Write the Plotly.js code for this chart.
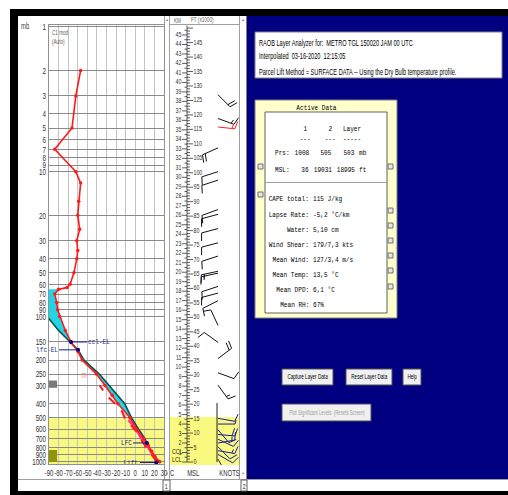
<!DOCTYPE html>
<html><head><meta charset="utf-8">
<script src="https://cdn.plot.ly/plotly-3.0.1.min.js"></script>
<style>html,body{margin:0;padding:0;background:#fff;overflow:hidden}#chart{width:508px;height:495px}</style>
</head><body><div id="chart"></div>
<script>
// ---------------- DATA ----------------
const pressureTicks = [1,2,3,4,5,6,7,8,9,10,20,30,40,50,60,70,80,90,100,150,200,250,300,400,500,600,700,800,900,1000];
const tempTicks = [-90,-80,-70,-60,-50,-40,-30,-20,-10,0,10,20,30];

// environmental temperature (mb, degC)
const envP = [1008,1000,925,850,775,700,600,500,400,350,300,250,200,175,150,125,100,90,80,70,65,63,60,50,40,35,30,25,20,16,12,10,7,5,3,2];
const envT = [25.5,24.5,20.5,17,13.5,9,1.5,-5.5,-18,-24,-31.5,-40.5,-55.5,-59.7,-67,-73,-79,-81,-82,-84,-80,-71,-68,-64,-61,-60,-61,-58,-60,-59,-57,-62,-84,-66,-62,-57];

// dew point (mb, degC)
const dewP = [1008,1000,925,850,775,700,630,600,500,450,400,370,350,300];
const dewT = [22.5,22,18.5,13,10,5.5,2,-1,-11,-14,-21,-26,-30,-37];

// second (pink) moisture trace, lower layer
const wetP = [1008,1000,900,800,700,600,520];
const wetT = [23.5,23,18,13.5,6.5,1,-7];

// lifted parcel (mb, degC)
const parcelP = [1008,960,925,850,775,747,700,600,500,400,300,250,200,170,150,125,100,80,65];
const parcelT = [25.5,21.5,19.5,16,13.2,12.2,10.2,3.5,-4,-11,-27.5,-37.5,-53.5,-59.7,-68,-80,-92,-100,-106];

// parcel marks
const markLabels = ['ccl-EL','lfc-EL','LFC','Lift'];
const markP = [150,170,747,1020];
const markT = [-67,-59.7,12.2,22];

// cloud layer indicators (mb)
const cloudTopP = [277,836];
const cloudBotP = [311,1012];

// selected layer (mb)
const layerP = [1008,505];

// height scale
const kmLabels = [1,2,3,4,5,6,7,8,9,10,11,12,13,14,15,16,17,18,19,20,21,22,23,24,25,26,27,28,29,30,31,32,33,34,35,36,37,38,39,40,41,42,43,44,45];
const ftLabels = [0,5,10,15,20,25,30,35,40,45,50,55,60,65,70,75,80,85,90,95,100,105,110,115,120,125,130,135,140,145];

// wind barbs (height km, direction deg, speed kt)
const windKm  = [38.7,36.2,33.1,30.6,29.7,26.6,26.1,24.6,23.1,21.7,20.1,19.9,18.5,17.8,17.0,14.4,12.6,10.9,9.4,8.1];
const windDir = [135,110,246,252,252,250,255,255,255,252,258,258,252,255,243,335,306,53,110,144];
const windKt  = [20,15,20,10,10,10,10,10,10,10,15,15,10,10,10,10,10,20,10,15];
const redWindKm = [35.3], redWindDir = [96], redWindKt = [15];
const lowWindKm  = [0.3,0.8,1.2,1.6,2.0,2.4,2.9,3.4,4.0,4.6];
const lowWindDir = [150,120,100,135,80,115,95,140,90,100];
const lowWindKt  = [5,10,15,10,15,10,20,10,5,10];

// Active data panel
const colHeads = ['1','2','Layer'];
const prsVals = ['1008','505','503'];
const mslVals = ['36','19031','18995'];
const statLabels = ['CAPE total:','Lapse Rate:','Water:','Wind Shear:','Mean Wind:','Mean Temp:','Mean DPD:','Mean RH:'];
const statValues = ['115 J/kg','-5,2 °C/km','5,10 cm','179/7,3 kts','127/3,4 m/s','13,5 °C','6,1 °C','67%'];

const headerLines = ['RAOB Layer Analyzer for:  METRO TGL 150020 JAM 00 UTC','Interpolated  03-16-2020  12:15:05','Parcel Lift Method = SURFACE DATA -- Using the Dry Bulb temperature profile.'];

// ---------------- HELPERS ----------------
const W=508,H=495;
const px=x=>x/W, py=y=>1-y/H;
const NARROW = 'Liberation Sans, Arial, sans-serif';
const MONO = 'Liberation Mono, Courier New, monospace';
const tAtPx = p => -90 + (p-49)*120/115;

function interpLog(P,T,p){
  const lp=Math.log(p);
  for(let i=0;i<P.length-1;i++){
    const a=Math.log(P[i]), b=Math.log(P[i+1]);
    if((lp<=a && lp>=b)){ const f=(lp-a)/(b-a); return T[i]+f*(T[i+1]-T[i]); }
  }
  return NaN;
}
function areaPoly(pBot,pTop){
  const ps=[...new Set([...envP,...parcelP,pBot,pTop])].filter(p=>p<=pBot&&p>=pTop).sort((a,b)=>b-a);
  const x=[],y=[];
  ps.forEach(p=>{x.push(interpLog(parcelP,parcelT,p));y.push(p);});
  ps.slice().reverse().forEach(p=>{x.push(interpLog(envP,envT,p));y.push(p);});
  return {x,y};
}
const cape = areaPoly(747,170);
const upper = areaPoly(170,65);
const cin = areaPoly(1008,747);

function barbs(kms,dirs,kts){
  const xs=[],ys=[];const L=17,k=1/9.49,x0=218;
  for(let j=0;j<kms.length;j++){
    const r=dirs[j]*Math.PI/180, ux=Math.sin(r), uy=Math.cos(r);
    const ex=x0+ux*L, ey=kms[j]+uy*L*k;
    xs.push(x0,ex,null); ys.push(kms[j],ey,null);
    const a=75*Math.PI/180, fx=ux*Math.cos(a)-uy*Math.sin(a), fy=ux*Math.sin(a)+uy*Math.cos(a);
    const n10=Math.floor(kts[j]/10), n5=Math.round((kts[j]-n10*10)/5);
    let i=0;
    for(;i<n10;i++){const bx=ex-ux*i*3, by=ey-uy*i*3*k; xs.push(bx,bx+fx*8,null); ys.push(by,by+fy*8*k,null);}
    if(n5){const bx=ex-ux*i*3, by=ey-uy*i*3*k; xs.push(bx,bx+fx*4,null); ys.push(by,by+fy*4*k,null);}
  }
  return {xs,ys};
}
const bBlack=barbs(windKm,windDir,windKt), bRed=barbs(redWindKm,redWindDir,redWindKt), bLow=barbs(lowWindKm,lowWindDir,lowWindKt);

// ruler
const rx=[187,187,null], ry=[0,46,null];
for(let km=0;km<=45;km++){rx.push(182,187,null);ry.push(km,km,null); rx.push(184.5,187,null);ry.push(km+0.5,km+0.5,null);}
for(let f=0;f<=150;f++){const y=f*0.3048; if(y>46)break; rx.push(187,f%5===0?193:190,null); ry.push(y,y,null);}

// ---------------- TRACES ----------------
const traces=[];
traces.push({x:cin.x,y:cin.y,fill:'toself',fillcolor:'#1fa67a',line:{width:0},mode:'lines',hoverinfo:'skip'});
traces.push({x:cape.x,y:cape.y,fill:'toself',fillcolor:'#1ed6e6',line:{width:0},mode:'lines',hoverinfo:'skip'});
traces.push({x:upper.x,y:upper.y,fill:'toself',fillcolor:'#1ed6e6',line:{width:0},mode:'lines',hoverinfo:'skip'});
cloudTopP.forEach((t,i)=>{
  traces.push({x:[-90,-81.6,-81.6,-90,-90],y:[cloudBotP[i],cloudBotP[i],t,t,cloudBotP[i]],fill:'toself',fillcolor:i===0?'#7a7a7a':'#94940c',line:{width:0},mode:'lines',hoverinfo:'skip'});
});
traces.push({x:parcelT,y:parcelP,mode:'lines',line:{color:'#0b4f4f',width:1.6}});
traces.push({x:wetT,y:wetP,mode:'lines',line:{color:'#ff3399',width:2.5}});
traces.push({x:dewT,y:dewP,mode:'lines',line:{color:'#ff1a1a',width:2,dash:'dash'}});
traces.push({x:envT,y:envP,mode:'lines+markers',line:{color:'#ff1a1a',width:1.6},marker:{color:'#ff1a1a',size:3.5}});
const leadTo=[tAtPx(87),tAtPx(59),tAtPx(133),tAtPx(140)];
const lx=[],ly=[];
markT.forEach((t,i)=>{lx.push(t,leadTo[i],null);ly.push(markP[i],markP[i],null);});
traces.push({x:lx,y:ly,mode:'lines',line:{color:'#1a1a8c',width:1},cliponaxis:false});
traces.push({x:markT,y:markP,mode:'markers',marker:{color:'#000080',size:4},cliponaxis:false});
const labX=[tAtPx(88),tAtPx(58),tAtPx(132),tAtPx(138)];
traces.push({x:labX,y:markP,mode:'text',text:markLabels,textposition:['middle right','middle left','middle left','middle left'],
  textfont:{family:MONO,size:8,color:'#1a1a8c'},cliponaxis:false});
traces.push({x:[-53.5],y:[258],mode:'text',text:['m'],textposition:'middle center',textfont:{family:NARROW,size:9,color:'#ff8080'}});

traces.push({x:rx,y:ry,xaxis:'x2',yaxis:'y2',mode:'lines',line:{color:'#333',width:0.8},cliponaxis:false});
traces.push({x:kmLabels.map(()=>181.5),y:kmLabels,xaxis:'x2',yaxis:'y2',mode:'text',text:kmLabels.map(String),textposition:'middle left',
  textfont:{family:NARROW,size:8,color:'#303030'},cliponaxis:false});
traces.push({x:ftLabels.map(()=>193.5),y:ftLabels.map(f=>f*0.3048),xaxis:'x2',yaxis:'y2',mode:'text',text:ftLabels.map(String),textposition:'middle right',
  textfont:{family:NARROW,size:8,color:'#303030'},cliponaxis:false});
traces.push({x:bBlack.xs,y:bBlack.ys,xaxis:'x2',yaxis:'y2',mode:'lines',line:{color:'#111',width:1}});
traces.push({x:bRed.xs,y:bRed.ys,xaxis:'x2',yaxis:'y2',mode:'lines',line:{color:'#ff2020',width:1}});
traces.push({x:bLow.xs,y:bLow.ys,xaxis:'x2',yaxis:'y2',mode:'lines',line:{color:'#1a1aa0',width:1}});

// ---------------- SHAPES ----------------
const shapes=[];
const rect=(x0,y0,x1,y1,fill,line,lw)=>shapes.push({type:'rect',xref:'paper',yref:'paper',x0:px(x0),x1:px(x1),y0:py(y1),y1:py(y0),fillcolor:fill,line:{color:line||fill,width:lw===undefined?(line?1:0):lw},layer:'below'});
const hl=(x0,x1,y,c)=>shapes.push({type:'line',xref:'paper',yref:'paper',x0:px(x0),x1:px(x1),y0:py(y),y1:py(y),line:{color:c,width:1},layer:'below'});
const vl=(x,y0,y1,c)=>shapes.push({type:'line',xref:'paper',yref:'paper',x0:px(x),x1:px(x),y0:py(y0),y1:py(y1),line:{color:c,width:1},layer:'below'});

rect(10,9,508,495,'#000000');
rect(18,16,247,491,'#ffffff');
rect(247,16,508,479,'#000080');
rect(18,479,508,491,'#ffffff');
shapes.push({type:'rect',xref:'x',yref:'y',x0:-90,x1:30,y0:layerP[1],y1:Math.pow(10,3.0187),fillcolor:'#f9f980',line:{width:0},layer:'below'});
rect(170,417,239,465,'#f9f980');
vl(164.5,16,479,'#a0a0a0'); vl(169.5,16,479,'#a0a0a0');
vl(239.5,16,479,'#a0a0a0'); vl(246.5,16,479,'#808080');
hl(170,239,24.5,'#a0a0a0');
hl(18,508,479.5,'#a0a0a0');
vl(217,403,462,'#222');
rect(163,480,170,491,'#ffffff','#606060');
rect(241,480,247,491,'#ffffff','#606060');
rect(255,32,502,78,'#ffffff','#808080');
rect(255,100,397,318,'#ffffcc','#808080');
rect(265,112,387,313,'#ffffff','#606060');
hl(265,387,182.5,'#a0a0a0');
[[258,164],[258,192],[388,164],[388,208],[388,223],[388,238],[388,253],[388,268],[388,284]].forEach(c=>rect(c[0],c[1],c[0]+5,c[1]+5,'#e6e6e6','#707070'));
rect(282,369,333,385,'#f0f0f0','#505050');
rect(346,369,392,385,'#f0f0f0','#505050');
rect(403,369,421,385,'#f0f0f0','#505050');
rect(282,404,371,421,'#f0f0f0','#505050');

// ---------------- ANNOTATIONS ----------------
const anns=[];
const ann=(x,y,text,o={})=>anns.push({xref:'paper',yref:'paper',x:px(x),y:py(y),text,showarrow:false,
  xanchor:o.xa||'left',align:o.xa||'left',yanchor:'middle',font:{family:o.f||NARROW,size:o.s||8,color:o.c||'#000'},borderpad:0});
ann(20,26,'mb',{s:9,c:'#404040'});
ann(51,33,'C1 mod',{s:7,c:'#606060'});
ann(51,42,'(Auto)',{s:7,c:'#606060'});
ann(172,473,'C',{xa:'center',s:9,c:'#333'});
ann(193,473,'MSL',{xa:'center',s:9,c:'#333'});
ann(229,473,'KNOTS',{xa:'center',s:9,c:'#333'});
ann(173,20,'KM',{s:7,c:'#606060'});
ann(190,20,'FT (x1000)',{s:7,c:'#606060'});
ann(171,451,'CCL',{s:8,c:'#202020'});
ann(171,459,'LCL',{s:8,c:'#202020'});
ann(166.5,19,'▲',{xa:'center',s:4,c:'#606060'});
ann(243,19,'▲',{xa:'center',s:4,c:'#606060'});
ann(166.5,473,'▼',{xa:'center',s:4,c:'#606060'});
ann(243,473,'▼',{xa:'center',s:4,c:'#606060'});
ann(166.5,486,'1',{xa:'center',s:8,c:'#222'});
ann(244,486,'2',{xa:'center',s:8,c:'#222'});
headerLines.forEach((t,i)=>ann(258,[43,56,72][i],t,{s:8.5,c:'#000'}));
ann(316,108,'Active Data',{xa:'center',f:MONO,s:8,c:'#000'});
const colX=[305,330,352];
colHeads.forEach((h,i)=>{ann(colX[i],128,h,{xa:'center',f:MONO,s:8}); ann(colX[i],138,i===2?'-----':'---',{xa:'center',f:MONO,s:8});});
ann(274,152,'Prs:',{f:MONO,s:8}); ann(274,169,'MSL:',{f:MONO,s:8});
const valR=[310,333,356];
prsVals.forEach((v,i)=>ann(valR[i],152,v,{xa:'right',f:MONO,s:8}));
mslVals.forEach((v,i)=>ann(valR[i],169,v,{xa:'right',f:MONO,s:8}));
ann(358,152,'mb',{f:MONO,s:8}); ann(358,169,'ft',{f:MONO,s:8});
const statY=[199,214,229,244,259,274,289,304];
statLabels.forEach((l,i)=>{ann(310,statY[i],l,{xa:'right',f:MONO,s:8}); ann(312,statY[i],statValues[i],{f:MONO,s:8});});
ann(307.5,377,'Capture Layer Data',{xa:'center',s:7});
ann(369,377,'Reset Layer Data',{xa:'center',s:7});
ann(412,377,'Help',{xa:'center',s:7});
ann(326.5,412.5,'Plot Significant Levels  (Resets Screen)',{xa:'center',s:6.5,c:'#a0a0a0'});

// ---------------- LAYOUT ----------------
const layout={
  width:W,height:H,margin:{l:0,r:0,t:0,b:0},paper_bgcolor:'#ffffff',plot_bgcolor:'rgba(0,0,0,0)',showlegend:false,
  xaxis:{domain:[px(49),px(164)],range:[-90,30],tickvals:tempTicks,ticktext:tempTicks.map(String),tickangle:0,
    showgrid:true,gridcolor:'#c4c4c4',gridwidth:1,zeroline:false,showline:true,linecolor:'#909090',mirror:true,ticks:'',
    tickfont:{family:NARROW,size:9,color:'#333'},anchor:'y',fixedrange:true},
  yaxis:{type:'log',domain:[py(464),py(25)],range:[3.0187,-0.0124],tickvals:pressureTicks,ticktext:pressureTicks.map(String),
    showgrid:true,gridcolor:'#8a8a8a',gridwidth:1,zeroline:false,showline:true,linecolor:'#909090',mirror:true,ticks:'',
    tickfont:{family:NARROW,size:9.5,color:'#333'},anchor:'x',fixedrange:true},
  xaxis2:{domain:[px(170),px(239)],range:[170,239],visible:false,anchor:'y2',fixedrange:true},
  yaxis2:{domain:[py(465),py(25)],range:[-0.316,46.05],visible:false,anchor:'x2',fixedrange:true},
  shapes,annotations:anns
};
Plotly.newPlot('chart',traces,layout,{displayModeBar:false,staticPlot:true}).then(()=>{
  // the reference uses a tightly condensed screen font: compress glyphs horizontally
  document.querySelectorAll('#chart svg text').forEach(t=>{
    const ff=(t.style.fontFamily||t.getAttribute('font-family')||'');
    let f=0;
    if(ff.indexOf('Liberation Mono')>=0) f=0.76;
    else if(ff.indexOf('Liberation Sans')>=0) f=0.66;
    if(f && t.textContent.length>0){
      const w=t.getComputedTextLength();
      if(w>0){t.setAttribute('textLength',(w*f).toFixed(2));t.setAttribute('lengthAdjust','spacingAndGlyphs');}
    }
  });
});
</script></body></html>
